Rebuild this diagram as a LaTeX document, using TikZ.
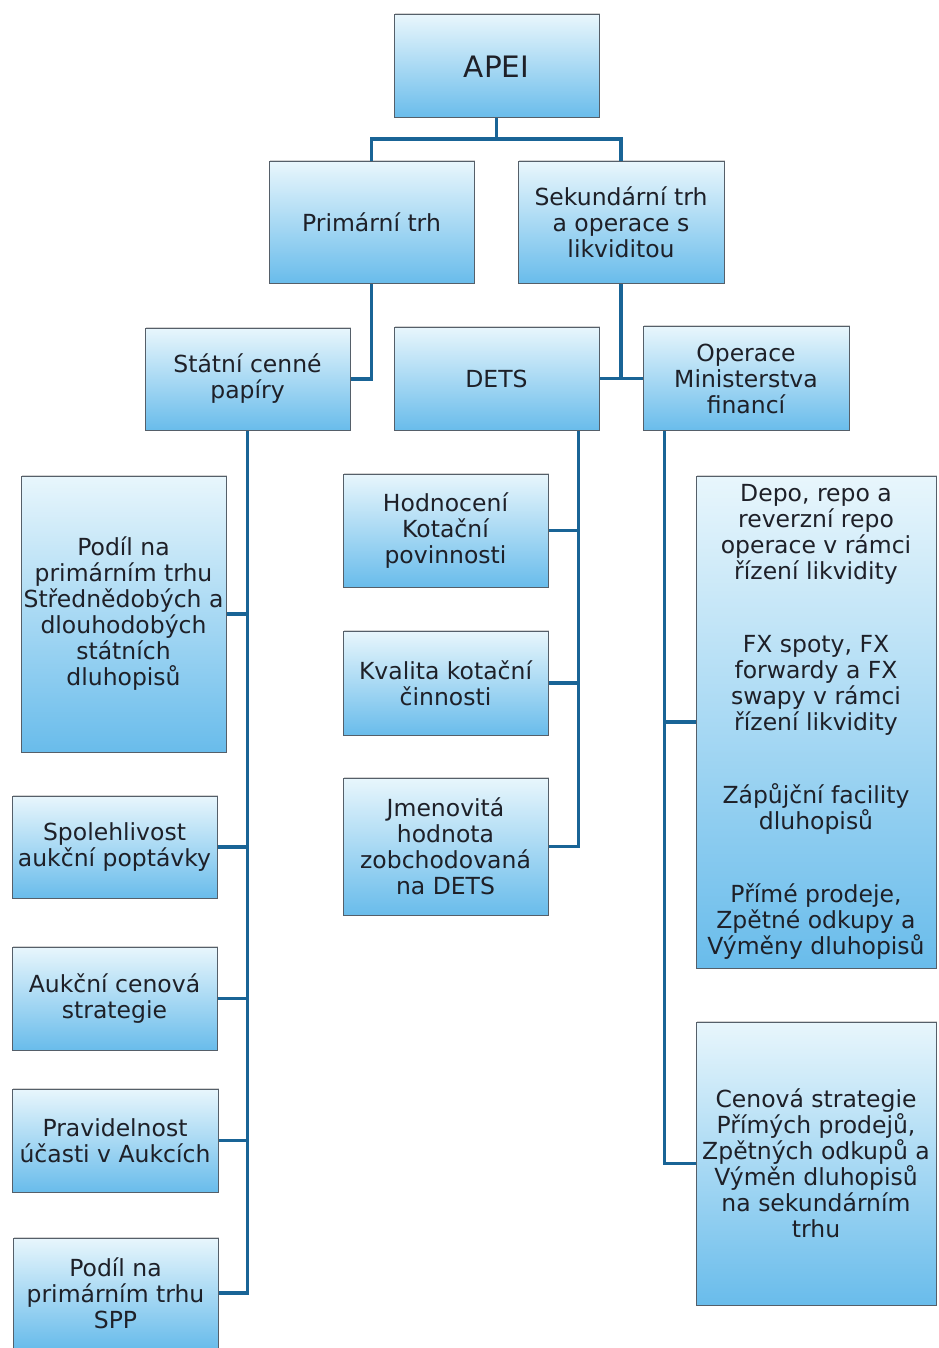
\documentclass[tikz,border=0pt]{standalone}
\usepackage{fontspec}
\setmainfont{DejaVu Sans}
\usetikzlibrary{shadows}
\definecolor{boxtop}{RGB}{232,246,252}
\definecolor{boxmid}{RGB}{185,225,245}
\definecolor{boxbot}{RGB}{105,188,235}
\definecolor{boxline}{RGB}{85,95,105}
\definecolor{connc}{RGB}{25,100,150}
\definecolor{txtc}{RGB}{30,32,40}
\tikzset{
  box/.style={draw=boxline, line width=1pt, top color=boxtop, middle color=boxmid, bottom color=boxbot,
    text=txtc, align=center, inner sep=1pt, minimum width=205pt,
    font=\fontsize{23.5}{26}\selectfont,
    drop shadow={shadow xshift=1pt, shadow yshift=1.5pt, opacity=0.35}},
  conn/.style={draw=connc, line width=3.8pt, line join=miter}
}
\begin{document}
\begin{tikzpicture}[x=1pt, y=-1pt]
\useasboundingbox (0,0) rectangle (938,1348);
% level 0
\node[box, minimum height=103pt, font=\fontsize{29.5}{34}\selectfont] (apei) at (496.5,66.5) {APEI};
% level 1
\node[box, minimum height=121pt] (prim) at (371.5,222.5) {Primární trh};
\node[box, minimum width=206pt, minimum height=121pt] (sek) at (621,222.5) {Sekundární trh\\a operace s\\likviditou};
% level 2
\node[box, minimum height=102pt] (stat) at (247.5,379) {Státní cenné\\papíry};
\node[box, minimum height=103pt] (dets) at (496.5,378.5) {DETS};
\node[box, minimum width=206pt, minimum height=104pt] (omf) at (746,378.5) {Operace\\Ministerstva\\financí};
% children of Statni cenne papiry
\node[box, minimum height=276pt] (p1) at (123.5,614) {Podíl na\\primárním trhu\\Střednědobých a\\dlouhodobých\\státních\\dluhopisů};
\node[box, minimum height=102pt] (s1) at (114.5,847) {Spolehlivost\\aukční poptávky};
\node[box, minimum height=103pt] (a1) at (114.5,998.5) {Aukční cenová\\strategie};
\node[box, minimum width=206pt, minimum height=103pt] (pr) at (115,1140.5) {Pravidelnost\\účasti v Aukcích};
\node[box, minimum height=110pt] (spp) at (115.5,1293) {Podíl na\\primárním trhu\\SPP};
% children of DETS
\node[box, minimum height=113pt] (h1) at (445.5,530.5) {Hodnocení\\Kotační\\povinnosti};
\node[box, minimum height=104pt] (k1) at (445.5,683) {Kvalita kotační\\činnosti};
\node[box, minimum height=137pt] (j1) at (445.5,846.5) {Jmenovitá\\hodnota\\zobchodovaná\\na DETS};
% children of Operace MF
\node[box, minimum width=240pt, minimum height=492pt] (big) at (816,722) {Depo, repo a\\reverzní repo\\operace v rámci\\řízení likvidity\\[47pt]FX spoty, FX\\forwardy a FX\\swapy v rámci\\řízení likvidity\\[47pt]Zápůjční facility\\dluhopisů\\[47pt]Přímé prodeje,\\Zpětné odkupy a\\Výměny dluhopisů};
\node[box, minimum width=240pt, minimum height=283pt] (cen) at (816,1163.5) {Cenová strategie\\Přímých prodejů,\\Zpětných odkupů a\\Výměn dluhopisů\\na sekundárním\\trhu};
% connectors
\coordinate (j0) at (496.5,139);
\draw[conn] (apei.south) -- (j0);
\draw[conn] (prim.north) |- (j0) -| (sek.north);
\draw[conn] (prim.south) |- (stat.east);
\draw[conn] (sek.south) -- (sek.south |- dets.east);
\draw[conn] (dets.east) -- (omf.west);
% Statni cenne papiry branch
\draw[conn] (stat.south) |- (spp.east);
\draw[conn] (p1.east) -- (p1.east -| stat.south);
\draw[conn] (s1.east) -- (s1.east -| stat.south);
\draw[conn] (a1.east) -- (a1.east -| stat.south);
\draw[conn] (pr.east) -- (pr.east -| stat.south);
% DETS branch
\coordinate (dt) at ([xshift=-21pt]dets.south east);
\draw[conn] (dt) |- (j1.east);
\draw[conn] (h1.east) -- (h1.east -| dt);
\draw[conn] (k1.east) -- (k1.east -| dt);
% Operace MF branch
\coordinate (ot) at ([xshift=22pt]omf.south west);
\draw[conn] (ot) |- (cen.west);
\draw[conn] (big.west) -- (big.west -| ot);
\end{tikzpicture}
\end{document}
